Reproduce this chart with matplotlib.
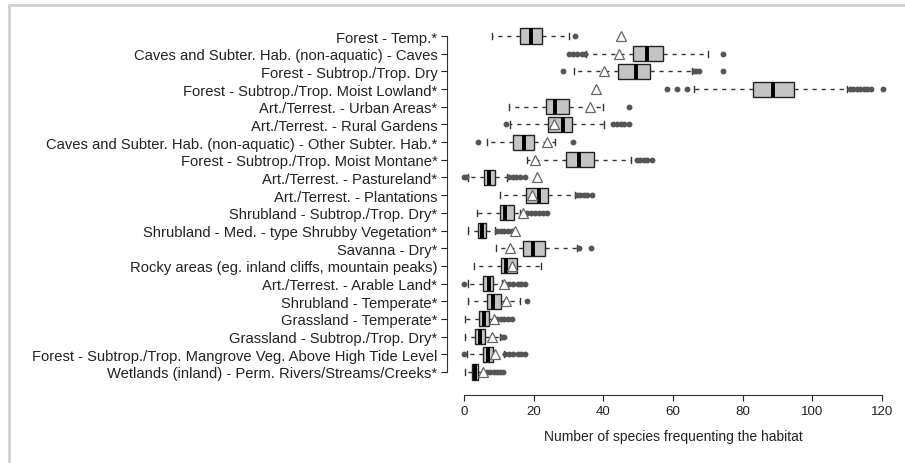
import matplotlib
matplotlib.use("Agg")
import matplotlib.pyplot as plt
import matplotlib.patches as mpatches

plt.rcParams['font.family'] = ['Liberation Sans', 'DejaVu Sans']

habitats = [
    "Forest - Temp.*",
    "Caves and Subter. Hab. (non-aquatic) - Caves",
    "Forest - Subtrop./Trop. Dry",
    "Forest - Subtrop./Trop. Moist Lowland*",
    "Art./Terrest. - Urban Areas*",
    "Art./Terrest. - Rural Gardens",
    "Caves and Subter. Hab. (non-aquatic) - Other Subter. Hab.*",
    "Forest - Subtrop./Trop. Moist Montane*",
    "Art./Terrest. - Pastureland*",
    "Art./Terrest. - Plantations",
    "Shrubland - Subtrop./Trop. Dry*",
    "Shrubland - Med. - type Shrubby Vegetation*",
    "Savanna - Dry*",
    "Rocky areas (eg. inland cliffs, mountain peaks)",
    "Art./Terrest. - Arable Land*",
    "Shrubland - Temperate*",
    "Grassland - Temperate*",
    "Grassland - Subtrop./Trop. Dry*",
    "Forest - Subtrop./Trop. Mangrove Veg. Above High Tide Level",
    "Wetlands (inland) - Perm. Rivers/Streams/Creeks*",
]

# simulated distributions (box summaries)
whis_lo = [8, 35, 31.5, 66, 13, 13.2, 6.5, 18, 1, 10.3, 3.8, 1.2, 9.2, 3, 1, 1.2, 0.3, 0.3, 0.9, 0.3]
q1 = [16.1, 48.4, 44.3, 83.1, 23.5, 24.2, 14.2, 29.3, 5.8, 17.8, 10.3, 4.1, 17, 10.6, 5.5, 6.5, 4.4, 3.2, 5.4, 2.2]
med = [19.1, 52.4, 49.4, 88.8, 26.1, 28.3, 17.2, 33.1, 7.3, 21.6, 11.8, 5.1, 19.9, 12.1, 7.3, 8.2, 5.7, 4.6, 7, 3.2]
q3 = [22.3, 57, 53.4, 94.7, 30, 31.1, 20.1, 37.3, 8.9, 24.2, 14.4, 6.2, 23.3, 15.1, 8.2, 10.6, 7.3, 6, 8.4, 4.1]
whis_hi = [30, 70, 65.5, 110, 40, 40.3, 26, 48, 12.3, 31.9, 16.1, 8.9, 32.3, 22, 10.8, 16.1, 8.6, 10.3, 11.5, 5.5]
outliers = [
    [31.9],
    [30, 31.2, 32.4, 33.8, 34.7, 74.3],
    [28.3, 66, 66.7, 67.4, 74.3],
    [58.2, 61.1, 63.9, 110.8, 111.8, 112.8, 113.8, 114.8, 115.8, 117, 120.4],
    [47.5],
    [12.1, 42.9, 44, 45, 46, 47.5],
    [4.1, 31.4],
    [49.6, 50.6, 51.6, 52.6, 53.9],
    [0, 0.5, 12.8, 14, 15, 16, 17.5],
    [32.4, 33.4, 34.4, 35.4, 36.7],
    [18, 19.2, 20.4, 21.6, 22.6, 23.7],
    [9.4, 10.5, 11.5, 12.5, 13.7],
    [33, 36.5],
    [],
    [0, 11.8, 13, 14.2, 15.4, 16.4, 17.5],
    [18.2],
    [9.4, 10.5, 11.5, 12.5, 13.7],
    [11, 11.6],
    [0, 11.8, 13, 14.2, 15.4, 16.4, 17.5],
    [6.5, 7.5, 8.5, 9.5, 10.4, 11.3],
]
# observed values (triangles)
observed = [45.1, 44.5, 40.3, 37.8, 36.2, 25.9, 23.9, 20.4, 20.9, 19.5, 16.8, 14.6, 13.2, 13.7, 11.5, 12, 8.6, 7.9, 8.9, 5.5]

W, H = 905, 464
fig = plt.figure(figsize=(W / 100, H / 100), dpi=100)
ax = fig.add_axes([458.8 / W, 1 - 383.6 / H, 430.1 / W, 357.2 / H])

stats = []
for i in range(len(habitats)):
    stats.append(dict(whislo=whis_lo[i], q1=q1[i], med=med[i], q3=q3[i],
                      whishi=whis_hi[i], fliers=outliers[i]))
pos = list(range(1, len(habitats) + 1))

ax.bxp(stats, positions=pos, vert=False, widths=0.85, patch_artist=True,
       boxprops=dict(facecolor='#c4c4c4', edgecolor='#222222', linewidth=1.0),
       medianprops=dict(color='black', linewidth=2.8),
       whiskerprops=dict(color='#333333', linestyle=(0, (3, 3.5)), linewidth=1.0),
       capprops=dict(color='#333333', linewidth=1.0),
       flierprops=dict(marker='o', markerfacecolor='#555555', markeredgecolor='#555555',
                       markersize=3.2, linestyle='none'),
       capwidths=0.35)

ax.plot(observed, pos, linestyle='none', marker='^', markersize=6.5,
        markerfacecolor='white', markeredgecolor='#666666', markeredgewidth=0.9, zorder=4)

ax.set_xlim(-1.5, 122)
ax.set_ylim(20.6, 0.4)
ax.set_yticks(pos)
ax.set_yticklabels(habitats)
ax.set_xticks([0, 20, 40, 60, 80, 100, 120])
ax.tick_params(axis='x', labelsize=9.6, colors='#222222', length=4, pad=3)
ax.tick_params(axis='y', labelsize=10.6, length=4, pad=3, colors='#222222')
for s in ['top', 'right']:
    ax.spines[s].set_visible(False)
ax.spines['left'].set_position(('outward', 8.5))
ax.spines['bottom'].set_position(('outward', 9))
ax.spines['left'].set_bounds(1, 20)
ax.spines['bottom'].set_bounds(0, 120)
ax.spines['left'].set_color('#333333')
ax.spines['bottom'].set_color('#333333')
ax.set_xlabel("Number of species frequenting the habitat", fontsize=10, color='#222222', labelpad=9)

# light frame around the figure
fig.patches.append(mpatches.Rectangle((9 / W, -0.1), 1.2, 1 - 6 / H + 0.1,
                                      transform=fig.transFigure, fill=False,
                                      edgecolor='#d0d0cc', linewidth=2))

fig.savefig("out.png", dpi=100, facecolor='white')
